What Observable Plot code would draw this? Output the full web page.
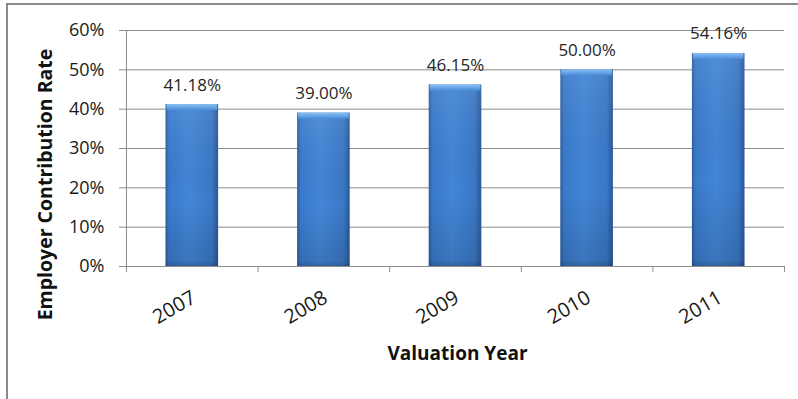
<!DOCTYPE html>
<html><head><meta charset="utf-8">
<script src="https://cdn.jsdelivr.net/npm/d3@7"></script>
<script src="https://cdn.jsdelivr.net/npm/@observablehq/plot@0.6"></script>
<style>body{margin:0;background:#fff}</style>
</head><body><div id="chart"></div>
<script>
const years = ["2007", "2008", "2009", "2010", "2011"];
const rates = [41.18, 39.00, 46.15, 50.00, 54.16];
const yTicks = [0, 10, 20, 30, 40, 50, 60];
const yTitle = "Employer Contribution Rate";
const xTitle = "Valuation Year";

const data = years.map((year, i) => ({year, i, rate: rates[i]}));
const bounds = d3.range(years.length + 1);
const font = "'Open Sans', sans-serif";
const inset = 39.5;

const chart = Plot.plot({
  width: 798, height: 399,
  marginLeft: 126, marginRight: 14, marginTop: 30, marginBottom: 133,
  style: {fontFamily: font, background: "transparent"},
  x: {domain: [0, years.length], axis: null, label: null},
  y: {domain: [0, 60], axis: null, label: null},
  marks: [
    Plot.ruleY(yTicks, {stroke: "#8c8c8c", strokeOpacity: 1, insetLeft: -7}),
    Plot.ruleX([0], {stroke: "#8c8c8c", strokeOpacity: 1, insetBottom: -6}),
    Plot.axisX(bounds, {tickSize: 6, tickFormat: () => "", label: null, stroke: "#8c8c8c", strokeOpacity: 1}),
    Plot.text(yTicks, {x: 0, y: d => d, text: d => d + "%", textAnchor: "end", dx: -22, fontSize: 18, fill: "#1a1a1a"}),
    Plot.rectY(data, {x1: "i", x2: d => d.i + 1, y: "rate", insetLeft: inset, insetRight: inset, fill: "url(#barH)"}),
    Plot.rectY(data, {x1: "i", x2: d => d.i + 1, y: "rate", insetLeft: inset, insetRight: inset, fill: "url(#barV)"}),
    Plot.rectY(data, {x1: "i", x2: d => d.i + 1, y1: "rate", y2: "rate", insetLeft: inset + 1, insetRight: inset + 1, insetBottom: -6, fill: "url(#bevel)"}),
    Plot.text(data, {x: d => d.i + 0.5, y: "rate", text: d => d.rate.toFixed(2) + "%", dy: -14, lineAnchor: "bottom", fontSize: 17, fill: "#262626"}),
    Plot.text(data, {x: d => d.i + 0.5, y: 0, text: "year", rotate: -30, textAnchor: "end", lineAnchor: "bottom", dx: 5, dy: 35, fontSize: 20, fill: "#1a1a1a"}),
    Plot.text([yTitle], {frameAnchor: "left", textAnchor: "middle", text: d => d, rotate: -90, dx: -81, dy: 36, fontSize: 19.5, fontWeight: "bold", fill: "#111"}),
    Plot.text([xTitle], {frameAnchor: "bottom", text: d => d, dx: 2, dy: 93, fontSize: 19, fontWeight: "bold", fill: "#111"})
  ]
});

const svg = d3.select(chart);
const defs = svg.insert("defs", ":first-child");
const gh = defs.append("linearGradient").attr("id", "barH").attr("x1", 0).attr("x2", 1).attr("y1", 0).attr("y2", 0);
[["0%", "#2c5e9f"], ["7%", "#3a7acb"], ["45%", "#4286d6"], ["88%", "#3b78c6"], ["100%", "#28589a"]]
  .forEach(([o, c]) => gh.append("stop").attr("offset", o).attr("stop-color", c));
const gv = defs.append("linearGradient").attr("id", "barV").attr("x1", 0).attr("x2", 0).attr("y1", 0).attr("y2", 1);
[["0%", "#ffffff", 0.08], ["60%", "#000000", 0.0], ["97%", "#000000", 0.12], ["100%", "#000000", 0.25]]
  .forEach(([o, c, a]) => gv.append("stop").attr("offset", o).attr("stop-color", c).attr("stop-opacity", a));
const gb = defs.append("linearGradient").attr("id", "bevel").attr("x1", 0).attr("x2", 0).attr("y1", 0).attr("y2", 1);
[["0%", "#8cc0f2"], ["100%", "#4a8cda"]]
  .forEach(([o, c]) => gb.append("stop").attr("offset", o).attr("stop-color", c));
svg.insert("rect", "defs + *").attr("x", 7).attr("y", 4).attr("width", 820).attr("height", 420)
  .attr("fill", "none").attr("stroke", "#8a8a8a").attr("stroke-width", 2);

document.getElementById("chart").appendChild(chart);
</script>
</body></html>
